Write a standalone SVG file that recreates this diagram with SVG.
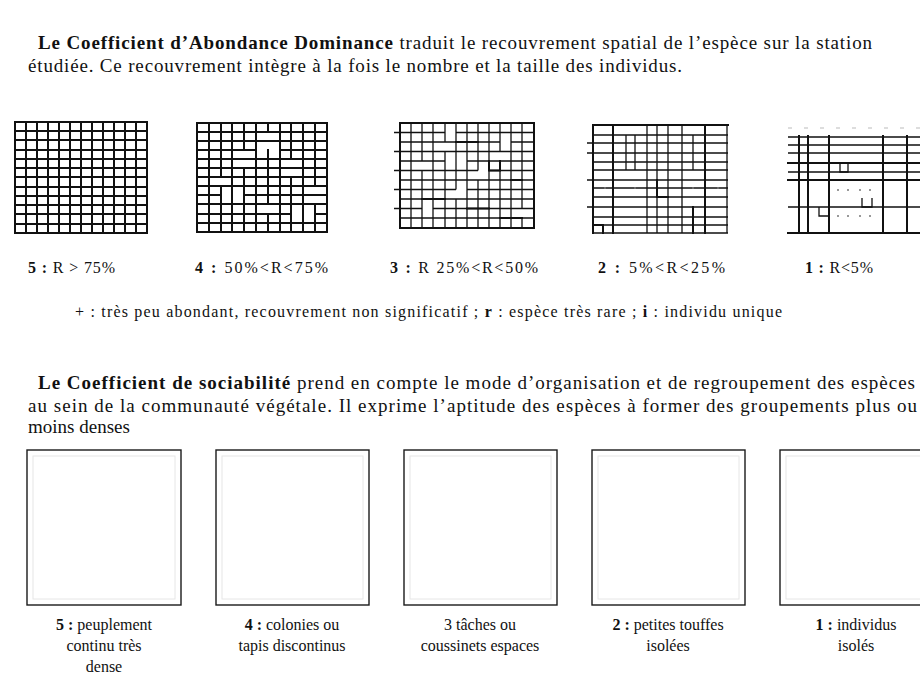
<svg xmlns="http://www.w3.org/2000/svg" width="920" height="678" viewBox="0 0 920 678">
<style>
text{font-family:"Liberation Serif","DejaVu Serif",serif;fill:#111}
.h{font-size:19px}
.lab{font-size:16px}
.note{font-size:16px}
.cap{font-size:16px;text-anchor:middle}
.g{fill:none;stroke:#111;stroke-width:2;stroke-linecap:square}
.gt{fill:none;stroke:#111;stroke-width:1.3}
.bx{fill:none;stroke:#1a1a1a;stroke-width:1.4}
.fa{fill:none;stroke:#e6e6e6;stroke-width:1}
.dot{fill:#777}
.b{font-weight:bold}
</style>
<rect width="920" height="678" fill="#fff"/>

<g id="intro-abondance">
<text class="h" x="38" y="49" textLength="834"><tspan class="b">Le Coefficient d’Abondance Dominance</tspan>  traduit le recouvrement spatial de l’espèce sur la station</text>
<text class="h" x="28" y="72" textLength="654">étudiée. Ce recouvrement intègre à la fois le nombre et la taille des individus.</text>
</g>

<g id="ad5">
<path class="g" d="M15 122V233M26 122V233M37 122V233M48 122V233M59 122V233M70 122V233M81 122V233M92 122V233M103 122V233M114 122V233M125 122V233M136 122V233M147 122V233M15 122H147M15 131H147M15 140H147M15 150H147M15 159H147M15 168H147M15 177H147M15 187H147M15 196H147M15 205H147M15 214H147M15 224H147M15 233H147"/>
<text class="lab" x="28" y="273" textLength="87"><tspan class="b">5 :</tspan> R &gt; 75%</text>
</g>

<g id="ad4">
<path class="g" d="M197 123H327M197 132H327M197 141H327M197 150H256M280 150H327M197 159H327M197 168H327M197 177H327M197 186H327M197 195H221M244 195H327M197 204H327M197 214H291M315 214H327M197 223H327M197 232H327M197 123V232M209 123V232M221 123V177M221 186V232M232 123V232M244 123V150M244 168V232M256 123V232M268 123V132M268 150V204M268 214V232M280 123V232M291 123V159M291 177V232M303 123V232M315 123V186M315 204V232M327 123V232"/>
<text class="lab" x="195" y="273" textLength="133"><tspan class="b">4 :</tspan> 50%&lt;R&lt;75%</text>
</g>

<g id="ad3">
<rect class="g" x="400" y="123" width="134" height="105" stroke-width="2.2"/>
<path class="gt" d="M394 132.5H445M456 132.5H534M400 142H500M511 142H534M394 151.5H534M400 161H445M467 161H534M394 170.5H478M489 170.5H534M400 180H534M394 189.5H456M467 189.5H534M400 199H534M394 208.5H422M433 208.5H534M400 218H534M411 123V228M422 123V161M422 170.5V228M433 123V228M445 123V142M445 151.5V228M456 123V189.5M456 199V228M467 123V228M478 123V170.5M478 180V228M489 123V228M500 123V151.5M500 161V228M511 123V228M522 123V208.5M522 218V228"/>
<path class="g" d="M456 142H478M489 161V170.5H500V161M511 180H522M422 199H445M467 208.5H489M500 218H522M411 228H433"/>
<text class="lab" x="390" y="273" textLength="148"><tspan class="b">3 :</tspan> R 25%&lt;R&lt;50%</text>
</g>

<g id="ad2">
<path class="g" d="M593 125H728" stroke-width="2.4"/>
<path class="gt" d="M593 135H728M587 143H728M587 153H728M593 162H728M593 170H728M587 180H728M593 188H728M593 197H728M587 207H728M593 217H728M593 225H728M593 233H728M593 125V233M613 125V233M626 135V170M635 135V170M647 125V233M657 125V233M668 125V233M682 125V233M693 135V170M705 125V233M727 125V233"/>
<path class="g" d="M593 125V233M613 125V233M657 180V197H668M705 125V233M593 225H603V233M693 207V233"/>
<circle class="dot" cx="605" cy="188" r="1"/><circle class="dot" cx="635" cy="188" r="1"/><circle class="dot" cx="693" cy="188" r="1"/><circle class="dot" cx="718" cy="188" r="1"/>
<text class="lab" x="598" y="273" textLength="127"><tspan class="b">2 :</tspan> 5%&lt;R&lt;25%</text>
</g>

<g id="ad1">
<path d="M788 128H920" fill="none" stroke="#bbb" stroke-width="1" stroke-dasharray="4 12"/>
<path class="gt" d="M788 137H920M788 145H920M788 153H920M788 163H920M788 172H920M788 180H920M788 207H920M788 233H920"/>
<path class="g" d="M799 136V233M808 136V233M829 136V233M883 136V233M907 136V233M788 163H920M788 180H920M788 233H920"/>
<path class="gt" d="M840 163V172H848V163M862 198V207H872V198M819 207V216H829"/>
<circle class="dot" cx="838" cy="190" r="1"/><circle class="dot" cx="848" cy="190" r="1"/><circle class="dot" cx="860" cy="190" r="1"/><circle class="dot" cx="870" cy="190" r="1"/><circle class="dot" cx="838" cy="216" r="1"/><circle class="dot" cx="848" cy="216" r="1"/><circle class="dot" cx="860" cy="216" r="1"/><circle class="dot" cx="870" cy="216" r="1"/>
<text class="lab" x="805" y="273" textLength="68"><tspan class="b">1 :</tspan> R&lt;5%</text>
</g>

<g id="note">
<text class="note" x="75" y="317" textLength="707">+ : très peu abondant, recouvrement non significatif ; <tspan class="b">r</tspan> : espèce très rare ; <tspan class="b">i</tspan> : individu unique</text>
</g>

<g id="intro-sociabilite">
<text class="h" x="38" y="389" textLength="877"><tspan class="b">Le Coefficient de sociabilité</tspan> prend en compte le mode d’organisation et de regroupement des espèces</text>
<text class="h" x="28" y="412" textLength="889">au sein de la communauté végétale. Il exprime l’aptitude des espèces à former des groupements plus ou</text>
<text class="h" x="28" y="433">moins denses</text>
</g>

<g id="s5">
<rect class="bx" x="27" y="450" width="154" height="155"/>
<rect class="fa" x="33" y="456" width="142" height="143"/>
<text class="cap" x="104" y="630"><tspan class="b">5 :</tspan> peuplement</text>
<text class="cap" x="104" y="651">continu très</text>
<text class="cap" x="104" y="672">dense</text>
</g>
<g id="s4">
<rect class="bx" x="216" y="450" width="153" height="155"/>
<rect class="fa" x="222" y="456" width="141" height="143"/>
<text class="cap" x="292" y="630"><tspan class="b">4 :</tspan> colonies ou</text>
<text class="cap" x="292" y="651">tapis discontinus</text>
</g>
<g id="s3">
<rect class="bx" x="404" y="450" width="153" height="155"/>
<rect class="fa" x="410" y="456" width="141" height="143"/>
<text class="cap" x="480" y="630">3  tâches ou</text>
<text class="cap" x="480" y="651">coussinets espaces</text>
</g>
<g id="s2">
<rect class="bx" x="592" y="450" width="153" height="155"/>
<rect class="fa" x="598" y="456" width="141" height="143"/>
<text class="cap" x="668" y="630"><tspan class="b">2 :</tspan> petites touffes</text>
<text class="cap" x="668" y="651">isolées</text>
</g>
<g id="s1">
<rect class="bx" x="780" y="450" width="153" height="155"/>
<rect class="fa" x="786" y="456" width="141" height="143"/>
<text class="cap" x="856" y="630"><tspan class="b">1 :</tspan> individus</text>
<text class="cap" x="856" y="651">isolés</text>
</g>
</svg>
